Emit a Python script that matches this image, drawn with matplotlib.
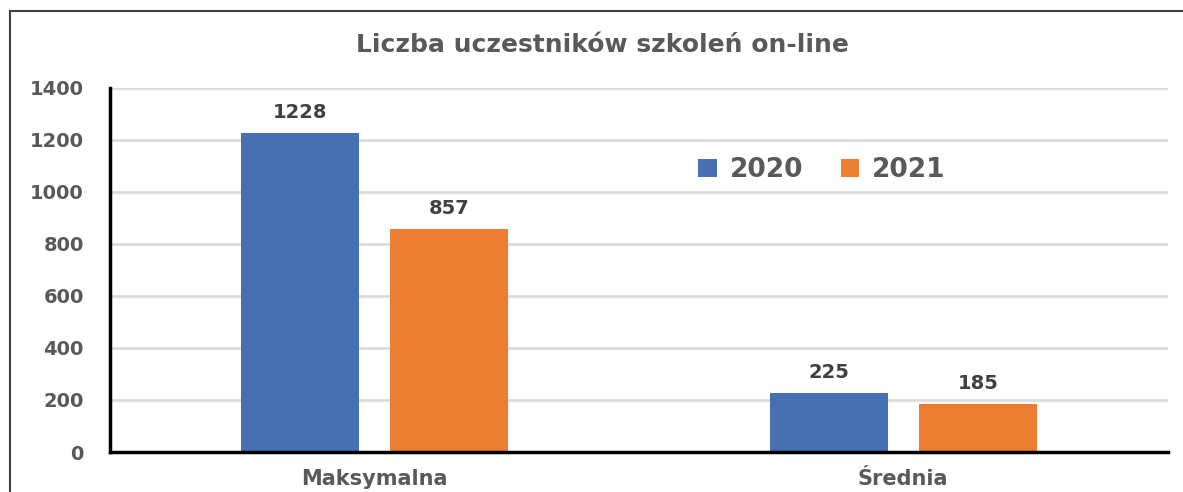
import numpy as np
import matplotlib.pyplot as plt
from matplotlib.lines import Line2D

plt.rcParams['font.family'] = ['DejaVu Sans']

categories = ['Maksymalna', 'Średnia']
series = ['2020', '2021']
values_2020 = [1228, 225]
values_2021 = [857, 185]
colors = ['#4770B3', '#ED7D31']

fig = plt.figure(figsize=(11.83, 4.92), dpi=100)
ax = fig.add_axes([0.093, 0.0813, 0.894, 0.74])

x = np.arange(len(categories))
w = 0.223
off = 0.141
for vals, name, col, dx in [(values_2020, series[0], colors[0], -off),
                            (values_2021, series[1], colors[1], off)]:
    bars = ax.bar(x + dx, vals, width=w, color=col, label=name, zorder=3)
    for b, v in zip(bars, vals):
        ax.annotate(str(v), (b.get_x() + b.get_width() / 2, v),
                    xytext=(0, 8), textcoords='offset points',
                    ha='center', va='bottom', fontsize=14,
                    fontweight='bold', color='#404040')

ax.set_xlim(-0.5, 1.5)
ax.set_ylim(0, 1400)
ax.set_yticks(range(0, 1401, 200))
ax.set_xticks(x)
ax.set_xticklabels(categories)
ax.grid(axis='y', color='#dcdcdc', linewidth=2, zorder=0)
ax.tick_params(axis='both', length=0, labelsize=14, labelcolor='#595959')
ax.tick_params(axis='y', pad=19)
ax.tick_params(axis='x', pad=12, labelsize=15)
for lab in ax.get_xticklabels() + ax.get_yticklabels():
    lab.set_fontweight('bold')

for s in ['top', 'right']:
    ax.spines[s].set_visible(False)
for s in ['left', 'bottom']:
    ax.spines[s].set_linewidth(2.5)
    ax.spines[s].set_color('black')
    ax.spines[s].set_zorder(4)

fig.text(0.509, 0.909, 'Liczba uczestników szkoleń on-line', ha='center', va='center',
         fontsize=18, fontweight='bold', color='#595959')

leg = fig.legend(loc='center', bbox_to_anchor=(0.695, 1 - 170 / 492), ncol=2,
                 frameon=False, fontsize=19, handlelength=0.7, handleheight=0.7,
                 columnspacing=1.4, handletextpad=0.5)
for t in leg.get_texts():
    t.set_fontweight('bold')
    t.set_color('#595959')

# outer frame (top and left edges only, rest cropped off)
x0 = 10 / 1183
y0 = 1 - 11 / 492
fig.lines.append(Line2D([x0, 1.0], [y0, y0], transform=fig.transFigure,
                        color='#404040', linewidth=1.5))
fig.lines.append(Line2D([x0, x0], [0.0, y0], transform=fig.transFigure,
                        color='#404040', linewidth=1.5))

fig.savefig('out.png', dpi=100)
